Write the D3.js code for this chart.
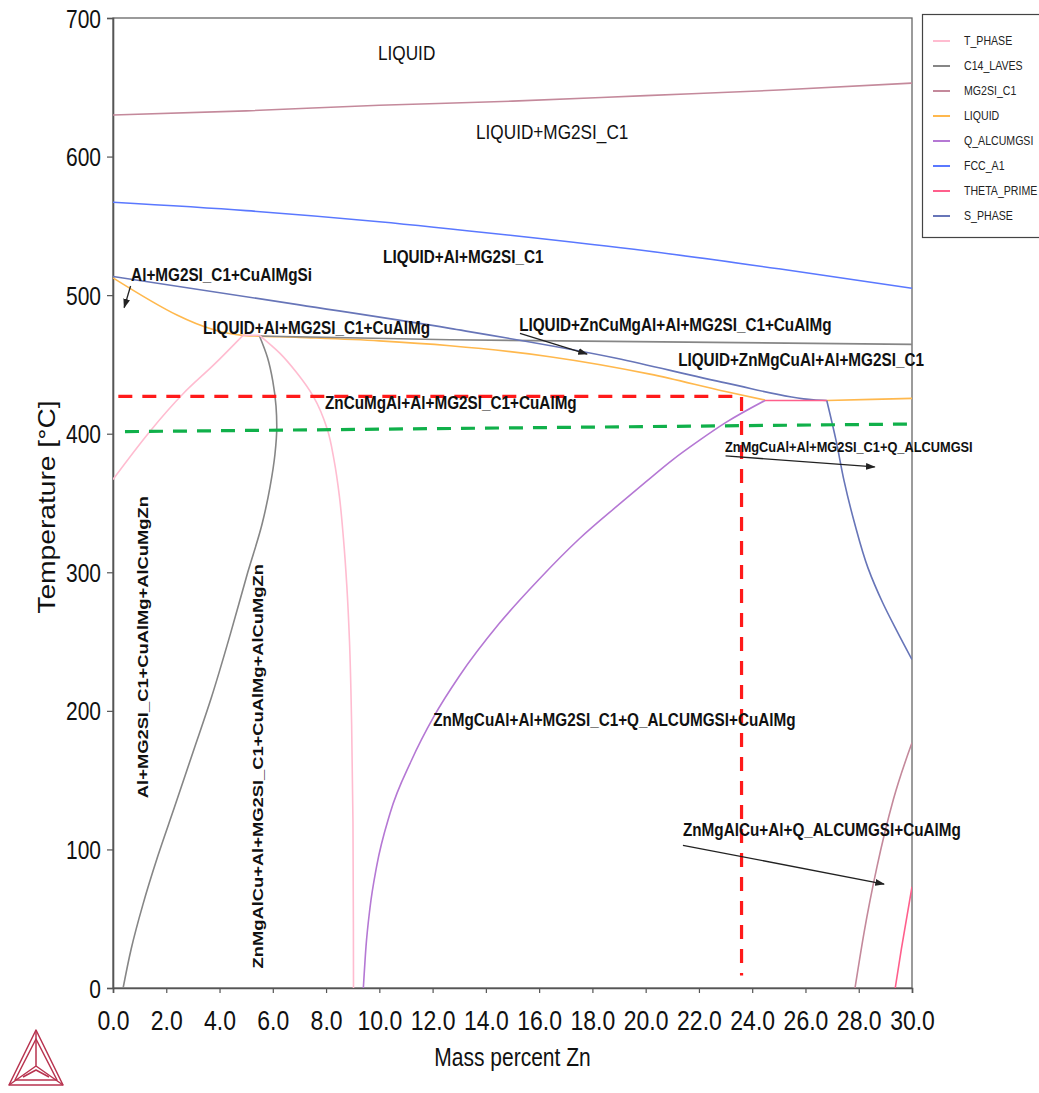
<!DOCTYPE html>
<html>
<head>
<meta charset="utf-8">
<script src="https://d3js.org/d3.v7.min.js"></script>
<style>
  body { margin: 0; background: #fff; }
  svg { display: block; font-family: "Liberation Sans", Arial, sans-serif; }
</style>
</head>
<body>
<svg id="chart" width="1039" height="1093"></svg>
<script>
  // ---- data (mass percent Zn, temperature in C) ----
  const xTicks = [0, 2, 4, 6, 8, 10, 12, 14, 16, 18, 20, 22, 24, 26, 28, 30];
  const yTicks = [0, 100, 200, 300, 400, 500, 600, 700];

  const tPhaseLeft = [[0, 367], [1.4, 402], [2.64, 429], [3.8, 450], [4.88, 471]];
  const tPhaseTop = [[4.88, 471], [5.5, 471]];
  const tPhaseRight = [[5.5, 471], [6.27, 458], [6.9, 444], [7.52, 427], [8.05, 403], [8.3, 381],
    [8.5, 355], [8.65, 325], [8.78, 290], [8.88, 250], [8.96, 190], [9.01, 120], [9.03, 0]];

  const c14Top = [[5.5, 470.5], [12.65, 467.8], [30, 464.5]];
  const c14Curve = [[5.5, 470.5], [5.8, 455], [6.0, 438], [6.12, 420], [6.15, 405], [6.08, 385],
    [5.9, 362], [5.6, 335], [5.06, 300], [4.4, 255], [3.7, 210], [3.0, 170], [2.3, 130],
    [1.68, 95], [1.12, 60], [0.68, 28], [0.38, 0]];

  const mg2siTop = [[0, 630], [5, 633], [10, 637], [15, 640], [20, 644], [25, 648], [30, 653]];
  const mg2siLow = [[27.86, 0], [28.2, 40], [28.68, 87], [29.3, 136], [30, 177]];

  const liquidMain = [[0, 512.5], [4.88, 471], [7, 469.5], [10, 467], [12.65, 463.5], [16.4, 455.6],
    [20.16, 443], [23.04, 430.3], [24.48, 424.3]];
  const liquidRight = [[26.8, 424], [28.5, 424.8], [30, 425.5]];

  const qAlcumgsi = [[9.4, 0], [9.5, 30], [9.65, 58], [9.9, 88], [10.4, 126], [11.2, 164],
    [12.05, 196], [13, 225], [14.5, 263], [16, 295], [17.5, 324], [19, 349], [20.05, 366],
    [21, 381], [22, 395], [23, 408], [24.48, 424]];

  const fccA1 = [[0, 567], [5, 561], [10, 553], [15, 543], [20, 532], [25, 519], [30, 505]];

  const thetaTop = [[24.48, 424], [26.8, 424]];
  const thetaLow = [[29.37, 0], [29.6, 28], [30, 73]];

  const sPhaseTop = [[0, 513.5], [7, 493], [12.65, 476], [18.9, 454.5], [23.04, 436.5], [26.3, 424.5], [26.8, 424]];
  const sPhaseDown = [[26.8, 424], [27.15, 395], [27.45, 366], [27.85, 335], [28.35, 303],
    [28.9, 278], [29.45, 257], [30, 237]];

  const redDash = [[0.2, 427], [23.6, 427], [23.6, 9]];
  const greenDash = [[0.45, 401.5], [30, 407]];

  const phaseNames = ["T_PHASE", "C14_LAVES", "MG2SI_C1", "LIQUID", "Q_ALCUMGSI", "FCC_A1", "THETA_PRIME", "S_PHASE"];

  // region labels: [text, x (wt%), T (C) of left/baseline]
  const regionLabels = [
    ["LIQUID+Al+MG2SI_C1", 10.14, 523],
    ["Al+MG2SI_C1+CuAlMgSi", 0.68, 510],
    ["LIQUID+Al+MG2SI_C1+CuAlMg", 3.38, 472],
    ["LIQUID+ZnCuMgAl+Al+MG2SI_C1+CuAlMg", 15.25, 474],
    ["LIQUID+ZnMgCuAl+Al+MG2SI_C1", 21.22, 449],
    ["ZnCuMgAl+Al+MG2SI_C1+CuAlMg", 7.96, 418],
    ["ZnMgCuAl+Al+MG2SI_C1+Q_ALCUMGSI+CuAlMg", 12.02, 189],
    ["ZnMgAlCu+Al+Q_ALCUMGSI+CuAlMg", 21.4, 110]
  ];
  const bigLabels = [
    ["LIQUID", 9.95, 670],
    ["LIQUID+MG2SI_C1", 13.63, 613]
  ];
  const smallLabels = [
    ["ZnMgCuAl+Al+MG2SI_C1+Q_ALCUMGSI", 22.98, 387]
  ];
  // vertical labels: [text, x (wt%) of centre, T (C) of centre]
  const verticalLabels = [
    ["Al+MG2SI_C1+CuAlMg+AlCuMgZn", 1.1, 246],
    ["ZnMgAlCu+Al+MG2SI_C1+CuAlMg+AlCuMgZn", 5.4, 160]
  ];
  const arrows = [
    [[0.66, 506.6], [0.42, 491]],
    [[15.28, 472.4], [17.8, 457.5]],
    [[23.0, 384], [28.6, 376]],
    [[21.4, 103], [28.95, 75]]
  ];

  // ---- drawing ----
  const svg = d3.select("#chart");
  const x = d3.scaleLinear().domain([0, 30]).range([113, 912]);
  const y = d3.scaleLinear().domain([0, 700]).range([988, 18]);
  const STRETCH = 1.2;
  const font = '"Liberation Sans", Arial, sans-serif';

  const color = {
    T_PHASE: "#ffbcd0",
    C14_LAVES: "#868686",
    MG2SI_C1: "#c4899b",
    LIQUID: "#ffb84d",
    Q_ALCUMGSI: "#b578d4",
    FCC_A1: "#5a78ff",
    THETA_PRIME: "#ff5f8c",
    S_PHASE: "#6775b8"
  };
  // [phase, points, curve follows y (true) or x]
  const curves = [
    ["MG2SI_C1", mg2siTop], ["MG2SI_C1", mg2siLow],
    ["FCC_A1", fccA1],
    ["LIQUID", liquidMain], ["LIQUID", liquidRight],
    ["C14_LAVES", c14Top], ["C14_LAVES", c14Curve, true],
    ["T_PHASE", tPhaseLeft], ["T_PHASE", tPhaseTop], ["T_PHASE", tPhaseRight, true],
    ["Q_ALCUMGSI", qAlcumgsi],
    ["S_PHASE", sPhaseTop], ["S_PHASE", sPhaseDown, true],
    ["THETA_PRIME", thetaTop], ["THETA_PRIME", thetaLow]
  ];

  const defs = svg.append("defs");
  defs.append("clipPath").attr("id", "plot-clip")
    .append("rect").attr("x", x(0)).attr("y", y(700))
    .attr("width", x(30) - x(0)).attr("height", y(0) - y(700));
  defs.append("marker").attr("id", "arrow")
    .attr("viewBox", "0 0 10 10").attr("refX", 9).attr("refY", 5)
    .attr("markerWidth", 7.5).attr("markerHeight", 7.5).attr("orient", "auto")
    .append("path").attr("d", "M0,1.5L10,5L0,8.5Z").attr("fill", "#222");

  // frame
  svg.append("rect")
    .attr("x", x(0)).attr("y", y(700))
    .attr("width", x(30) - x(0)).attr("height", y(0) - y(700))
    .attr("fill", "none").attr("stroke", "#666").attr("stroke-width", 1.3);

  // axes
  const gx = svg.append("g")
    .attr("transform", `translate(0,${y(0)})`)
    .call(d3.axisBottom(x).tickValues(xTicks).tickFormat(d3.format(".1f")).tickSize(5).tickPadding(14));
  const gy = svg.append("g")
    .attr("transform", `translate(${x(0)},0)`)
    .call(d3.axisLeft(y).tickValues(yTicks).tickSize(6).tickPadding(6));
  [gx, gy].forEach(g => {
    g.attr("font-family", font).attr("font-size", null);
    g.select(".domain").attr("stroke", "#555").attr("stroke-width", 1.6);
    g.selectAll(".tick line").attr("stroke", "#555").attr("stroke-width", 1.2);
  });
  gx.selectAll(".tick line").attr("y2", 5);
  gx.selectAll(".tick text").attr("font-size", 23).attr("fill", "#111")
    .attr("transform", `scale(1,${STRETCH})`);
  gy.selectAll(".tick text").attr("font-size", 21).attr("fill", "#111")
    .attr("dy", "0.36em")
    .attr("transform", `scale(1,${STRETCH})`);

  // axis titles
  svg.append("text")
    .attr("transform", `translate(${(x(0) + x(30)) / 2},1066) scale(1,${STRETCH})`)
    .attr("text-anchor", "middle").attr("font-size", 21).attr("fill", "#111")
    .text("Mass percent Zn");
  svg.append("text")
    .attr("transform", `translate(55,${(y(0) + y(700)) / 2 + 4}) scale(1,${STRETCH}) rotate(-90)`)
    .attr("text-anchor", "middle").attr("font-size", 23.5).attr("fill", "#111")
    .text("Temperature [°C]");

  // phase boundaries
  const lineX = d3.line().x(d => x(d[0])).y(d => y(d[1])).curve(d3.curveMonotoneX);
  const lineY = d3.line().x(d => x(d[0])).y(d => y(d[1])).curve(d3.curveMonotoneY);
  const plot = svg.append("g").attr("clip-path", "url(#plot-clip)");
  plot.selectAll("path.boundary")
    .data(curves)
    .join("path")
    .attr("class", "boundary")
    .attr("d", d => (d[2] ? lineY : lineX)(d[1]))
    .attr("fill", "none")
    .attr("stroke", d => color[d[0]])
    .attr("stroke-width", 1.6);

  // dashed guide lines
  const straight = d3.line().x(d => x(d[0])).y(d => y(d[1]));
  plot.append("path").attr("d", straight(greenDash))
    .attr("fill", "none").attr("stroke", "#10b04a").attr("stroke-width", 3.2)
    .attr("stroke-dasharray", "14,10");
  plot.append("path").attr("d", straight(redDash))
    .attr("fill", "none").attr("stroke", "#ff1a1a").attr("stroke-width", 3.2)
    .attr("stroke-dasharray", "14,10");

  // labels
  const lab = svg.append("g").attr("fill", "#111");
  function hText(list, size, weight) {
    lab.selectAll(null).data(list).join("text")
      .attr("transform", d => `translate(${x(d[1])},${y(d[2])}) scale(1,${STRETCH})`)
      .attr("font-size", size).attr("font-weight", weight)
      .text(d => d[0]);
  }
  hText(bigLabels, 17.2, "normal");
  hText(regionLabels, 15.3, "bold");
  hText(smallLabels, 12.8, "bold");
  lab.selectAll(null).data(verticalLabels).join("text")
    .attr("transform", d => `translate(${x(d[1]) + 6},${y(d[2])}) scale(1,${STRETCH}) rotate(-90)`)
    .attr("text-anchor", "middle")
    .attr("font-size", 15.3).attr("font-weight", "bold")
    .text(d => d[0]);

  // arrows
  svg.append("g").selectAll("line").data(arrows).join("line")
    .attr("x1", d => x(d[0][0])).attr("y1", d => y(d[0][1]))
    .attr("x2", d => x(d[1][0])).attr("y2", d => y(d[1][1]))
    .attr("stroke", "#222").attr("stroke-width", 1.3)
    .attr("marker-end", "url(#arrow)");

  // legend
  const legend = svg.append("g").attr("transform", "translate(922,14)");
  legend.append("rect").attr("x", 0.5).attr("y", 0.5).attr("width", 140).attr("height", 223)
    .attr("fill", "#fff").attr("stroke", "#444").attr("stroke-width", 1.2);
  const item = legend.selectAll("g.item").data(phaseNames).join("g")
    .attr("class", "item")
    .attr("transform", (d, i) => `translate(0,${27 + i * 25})`);
  item.append("line").attr("x1", 11).attr("x2", 28)
    .attr("stroke", d => color[d]).attr("stroke-width", 2);
  item.append("text").attr("x", 42).attr("dy", "0.35em")
    .attr("transform", `scale(1,${STRETCH})`)
    .attr("font-size", 10.6).attr("fill", "#222")
    .text(d => d);

  // logo
  const logo = svg.append("g").attr("transform", "translate(36,1030)")
    .attr("fill", "none").attr("stroke", "#b8334f").attr("stroke-width", 1.5)
    .attr("stroke-linejoin", "round");
  logo.append("path").attr("d", "M0,0L-27,55L27,55Z");
  logo.append("path").attr("d", "M0,0L0,36M0,36L-27,55M0,36L27,55");
  logo.append("path").attr("d", "M0,9L-21,50L21,50Z");
  logo.append("path").attr("d", "M-13,47L0,40L13,47");
</script>
</body>
</html>
